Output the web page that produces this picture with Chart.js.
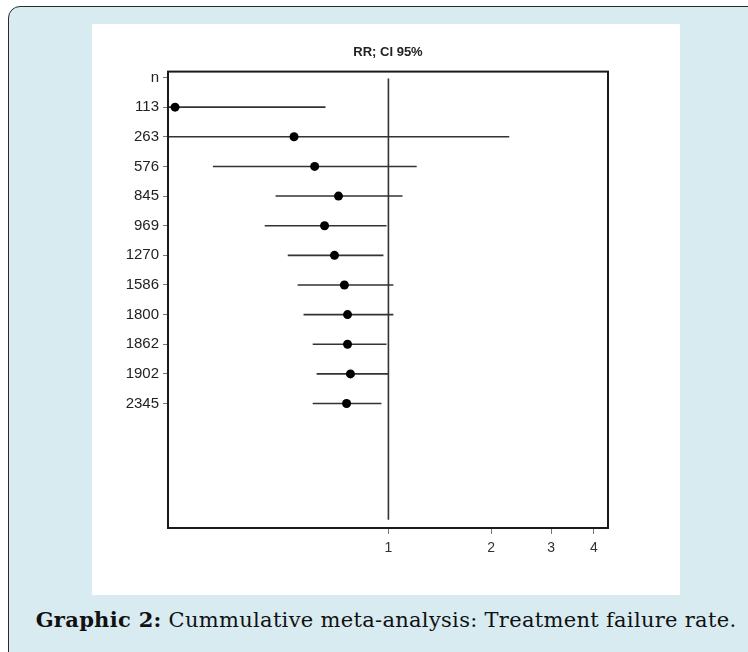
<!DOCTYPE html>
<html>
<head>
<meta charset="utf-8">
<script src="https://cdn.jsdelivr.net/npm/chart.js@4.4.0/dist/chart.umd.min.js"></script>
<style>
    html, body { margin: 0; padding: 0; background: #fff; }
    body { width: 748px; height: 652px; overflow: hidden; position: relative; }
    #card {
        position: absolute; left: 8px; top: 6px; width: 780px; height: 670px;
        background: #d7ebf1; border: 1.5px solid #2a2a2a; border-radius: 12px;
    }
    #panel { position: absolute; left: 92px; top: 24px; width: 588px; height: 571px; background: #fff; }
    #caption {
        position: absolute; left: 0; width: 772px; top: 607px; text-align: center;
        font-family: "DejaVu Serif", serif; font-size: 21px; letter-spacing: 0.3px;
        color: #111; white-space: nowrap;
    }
</style>
</head>
<body>
<div id="card"></div>
<div id="panel"><canvas id="chart" width="588" height="571"></canvas></div>
<div id="caption"><b>Graphic 2:</b> Cummulative meta-analysis: Treatment failure rate.</div>
<script>
// row labels (cumulative n), first row is the header
const yLabels = ["n", "113", "263", "576", "845", "969", "1270", "1586", "1800", "1862", "1902", "2345"];
// pooled RR and 95% CI for each cumulative step
const rr     = [0.237, 0.529, 0.608, 0.714, 0.650, 0.695, 0.743, 0.759, 0.759, 0.774, 0.754];
const ciLow  = [0.15, 0.12, 0.306, 0.467, 0.434, 0.507, 0.542, 0.564, 0.600, 0.616, 0.600];
const ciHigh = [0.654, 2.26, 1.21, 1.10, 0.987, 0.967, 1.034, 1.034, 0.987, 1.0, 0.954];
const xTicks = [1, 2, 3, 4];
// line of no effect (RR = 1)
const refX = [1, 1];
const refY = [0.03, 14.92];

const dots = rr.map((v, i) => ({ x: v, y: i + 1 }));
const bars = [];
ciLow.forEach((lo, i) => {
    bars.push({ x: lo, y: i + 1 }, { x: ciHigh[i], y: i + 1 }, { x: null, y: null });
});
const ref = refX.map((x, i) => ({ x: x, y: refY[i] }));

const boxPlugin = {
    id: "box",
    afterDraw(chart) {
        const { ctx, chartArea: a } = chart;
        ctx.save();
        ctx.strokeStyle = "#1a1a1a";
        ctx.lineWidth = 2;
        ctx.strokeRect(a.left, a.top, a.right - a.left, a.bottom - a.top);
        ctx.restore();
    }
};

new Chart(document.getElementById("chart"), {
    type: "scatter",
    data: {
        datasets: [
            { data: dots, pointRadius: 4.5, pointHoverRadius: 0, backgroundColor: "#000", borderColor: "#000", borderWidth: 0 },
            { data: bars, showLine: true, spanGaps: false, borderColor: "#333", borderWidth: 1.6, pointRadius: 0, pointHoverRadius: 0, clip: 0 },
            { data: ref, showLine: true, borderColor: "#333", borderWidth: 1.6, pointRadius: 0, pointHoverRadius: 0, clip: 0 }
        ]
    },
    options: {
        responsive: false,
        animation: false,
        events: [],
        layout: { padding: { top: 0, left: 0, right: 72, bottom: 0 } },
        plugins: {
            legend: { display: false },
            tooltip: { enabled: false },
            title: {
                display: true,
                fullSize: false,
                text: "RR; CI 95%",
                color: "#222",
                font: { family: "Liberation Sans, Arial", size: 13, weight: "bold" },
                padding: { top: 21, bottom: 11 }
            }
        },
        scales: {
            x: {
                type: "logarithmic",
                min: 0.226,
                max: 4.4,
                afterBuildTicks: s => { s.ticks = xTicks.map(v => ({ value: v })); },
                afterFit: s => { s.height = 67; },
                ticks: { callback: v => String(v), font: { family: "Liberation Sans, Arial", size: 14 }, color: "#333", padding: 6, autoSkip: false, maxRotation: 0 },
                grid: { drawOnChartArea: false, drawTicks: true, tickLength: 6, color: "#777" },
                border: { display: false }
            },
            y: {
                type: "linear",
                reverse: true,
                min: -0.2,
                max: 15.2,
                afterBuildTicks: s => { s.ticks = yLabels.map((_, i) => ({ value: i })); },
                afterFit: s => { s.width = 76; },
                ticks: { callback: v => yLabels[v], font: { family: "Liberation Sans, Arial", size: 15 }, color: "#222", padding: 4, autoSkip: false },
                grid: { drawOnChartArea: false, drawTicks: true, tickLength: 5, color: "#777" },
                border: { display: false }
            }
        }
    },
    plugins: [boxPlugin]
});
</script>
</body>
</html>
